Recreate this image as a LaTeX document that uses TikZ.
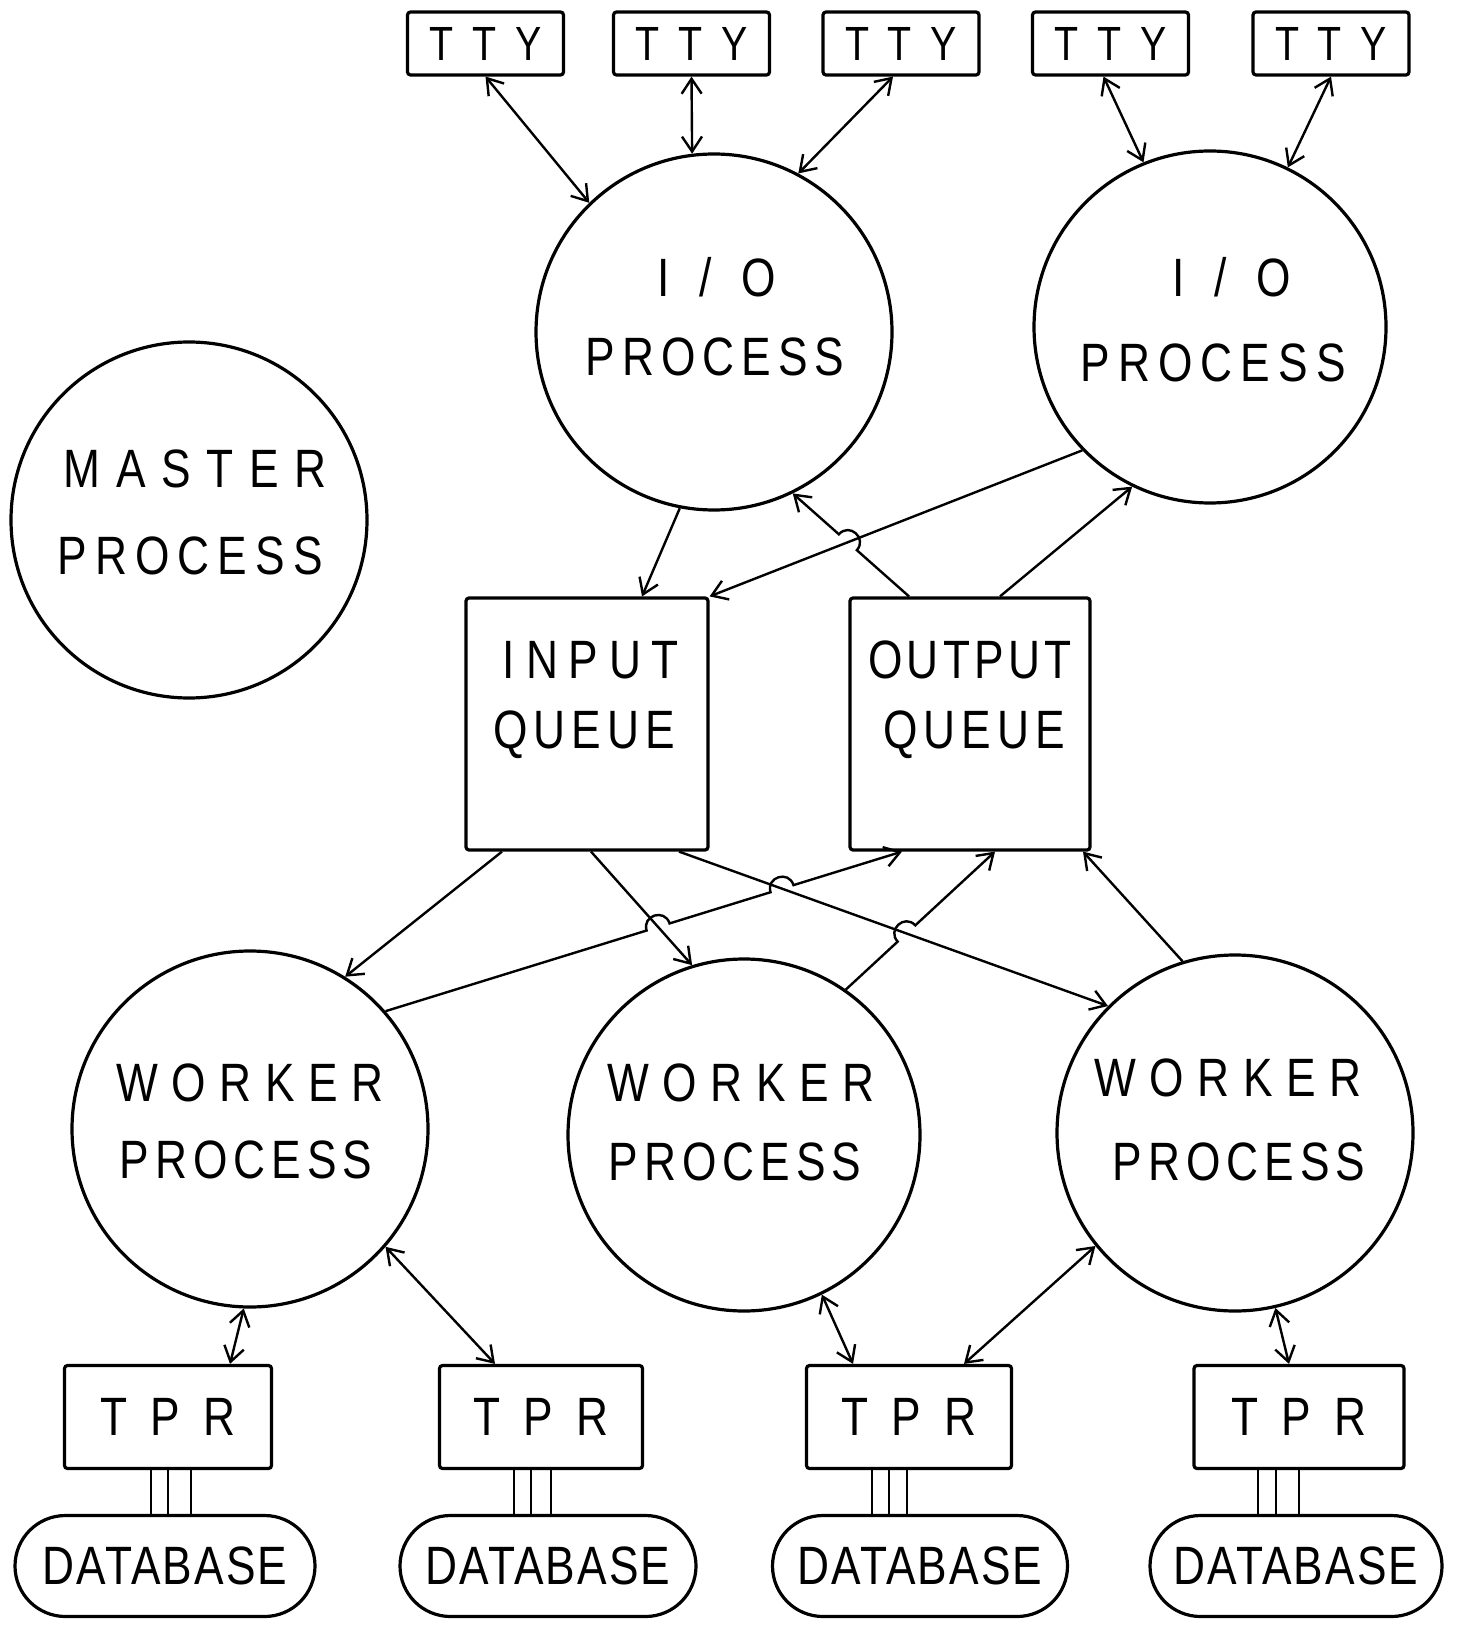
\documentclass[tikz,border=0pt]{standalone}
\usepackage{fontspec}
\newfontfamily\handfont[FakeStretch=0.82]{Liberation Sans}
\usetikzlibrary{arrows.meta,calc,intersections,shapes.misc}
\newcommand{\lsp}[1]{\addfontfeature{LetterSpace=#1}}
\begin{document}
\begin{tikzpicture}[x=0.5pt,y=-0.5pt,
 shp/.style={draw, line width=1.6pt},
 ttybox/.style={shp, rectangle, rounded corners=1.5pt, minimum width=78pt, minimum height=31.5pt, inner sep=0, font=\handfont\fontsize{24}{28}\selectfont},
 proc/.style={shp, circle, minimum size=178pt, inner sep=0},
 queue/.style={shp, rectangle, rounded corners=1.5pt, minimum width=121pt, minimum height=126pt, inner sep=0},
 tprbox/.style={shp, rectangle, rounded corners=1.5pt, minimum height=51.5pt, inner sep=0, font=\handfont\fontsize{27}{30}\selectfont},
 dbbox/.style={shp, rounded rectangle, minimum height=50.5pt, inner sep=0, font=\handfont\fontsize{27}{30}\selectfont},
 lbl/.style={font=\handfont\fontsize{27}{30}\selectfont, inner sep=0, text depth=0pt},
 conn/.style={line width=1.2pt},
 arr/.style={conn, -{Straight Barb[length=7.5pt,width=10pt]}},
 darr/.style={conn, {Straight Barb[length=7.5pt,width=10pt]}-{Straight Barb[length=7.5pt,width=10pt]}},
 hopl/.style={bend left=90, looseness=1.7},
 hopr/.style={bend right=90, looseness=1.7},
]
\useasboundingbox (0,0) rectangle (1464,1625);

% TTY boxes
\node[ttybox] (t1) at (485.5,43.5) {\lsp{39}TTY};
\node[ttybox] (t2) at (691.5,43.5) {\lsp{39}TTY};
\node[ttybox] (t3) at (901,43.5) {\lsp{39}TTY};
\node[ttybox] (t4) at (1110.5,43.5) {\lsp{39}TTY};
\node[ttybox] (t5) at (1331,43.5) {\lsp{39}TTY};

% processes
\node[proc] (io1) at (714,332) {};
\node[proc, minimum size=176pt] (io2) at (1210,327) {};
\node[proc] (ms) at (189,520) {};
\node[proc] (w1) at (250,1129) {};
\node[proc, minimum size=176pt] (w2) at (744,1135) {};
\node[proc] (w3) at (1235,1133) {};

% queues
\node[queue] (iq) at (587,724) {};
\node[queue, minimum width=120pt] (oq) at (970,724) {};

% TPR
\node[tprbox, minimum width=103.5pt] (p1) at (168,1417) {\lsp{43}TPR};
\node[tprbox, minimum width=101.5pt] (p2) at (541,1417) {\lsp{43}TPR};
\node[tprbox, minimum width=102.5pt] (p3) at (909,1417) {\lsp{43}TPR};
\node[tprbox, minimum width=105pt] (p4) at (1299,1417) {\lsp{43}TPR};

% databases
\node[dbbox, minimum width=150pt] (d1) at (165,1566) {\lsp{4}DATABASE};
\node[dbbox, minimum width=148pt] (d2) at (548,1566) {\lsp{4}DATABASE};
\node[dbbox, minimum width=147.5pt] (d3) at (920,1566) {\lsp{4}DATABASE};
\node[dbbox, minimum width=146pt] (d4) at (1296,1566) {\lsp{4}DATABASE};

% labels
\node[lbl] (io1a) at (717,277) {\lsp{55}I/O};
\node[lbl] (io1b) at (715,357) {\lsp{13}PROCESS};
\node[lbl] (io2a) at (1232,277) {\lsp{55}I/O};
\node[lbl] (io2b) at (1213,363) {\lsp{15}PROCESS};
\node[lbl] (msa) at (195,469) {\lsp{29}MASTER};
\node[lbl] (msb) at (190,556) {\lsp{15}PROCESS};
\node[lbl] (w1a) at (250,1083) {\lsp{25}WORKER};
\node[lbl] (w1b) at (246,1160) {\lsp{11}PROCESS};
\node[lbl] (w2a) at (741,1083) {\lsp{25}WORKER};
\node[lbl] (w2b) at (735,1162) {\lsp{11}PROCESS};
\node[lbl] (w3a) at (1228,1078) {\lsp{25}WORKER};
\node[lbl] (w3b) at (1239,1162) {\lsp{11}PROCESS};
\node[lbl] (iqa) at (591,660) {\lsp{20}INPUT};
\node[lbl] (iqb) at (584,730) {\lsp{11}QUEUE};
\node[lbl] (oqa) at (970,660) {\lsp{8}OUTPUT};
\node[lbl] (oqb) at (974,730) {\lsp{11}QUEUE};

% anchor points on boxes
\coordinate (t3s) at ($(t3.south)+(-8,0)$);
\coordinate (t4s) at ($(t4.south)+(-7,0)$);
\coordinate (iqn1) at ($(iq.north)+(55,0)$);
\coordinate (oqn1) at ($(oq.north)+(-61,0)$);
\coordinate (oqn2) at ($(oq.north)+(30,0)$);
\coordinate (iqs1) at ($(iq.south)+(-85,0)$);
\coordinate (iqs2) at ($(iq.south)+(4,0)$);
\coordinate (iqs3) at ($(iq.south)+(92,0)$);
\coordinate (oqs1) at ($(oq.south)+(-68,0)$);
\coordinate (oqs2) at ($(oq.south)+(25,0)$);
\coordinate (oqs3) at ($(oq.south)+(113,0)$);
\coordinate (p1n) at ($(p1.north)+(62,0)$);
\coordinate (p2n) at ($(p2.north)+(-46,0)$);
\coordinate (p3n1) at ($(p3.north)+(-56,0)$);
\coordinate (p3n2) at ($(p3.north)+(55,0)$);
\coordinate (p4n) at ($(p4.north)+(-10,0)$);

% TTY <-> I/O
\draw[darr] (t1.south) -- (io1.134);
\draw[darr] (t2.south) -- (io1.97);
\draw[darr] (t3s) -- (io1.62);
\draw[darr] (t4s) -- (io2.112);
\draw[darr] (t5.south) -- (io2.64);

% I/O <-> queues
\draw[arr] (io1.259) -- (iqn1);
\draw[arr] (io2.224) -- (iq.north east);
\draw[arr] (oqn2) -- (io2.244);
\path[name path=pa] (io2.224) -- (iq.north east);
\path[name path=pb] (oqn1) -- (io1.296);
\path[name intersections={of=pa and pb, by=xa}];
\draw[arr] (oqn1) -- ($(xa)!6pt!(oqn1)$) to[hopr] ($(xa)!6pt!(io1.296)$) -- (io1.296);

% queues <-> workers
\draw[arr] (iqs1) -- (w1.58);
\draw[arr] (iqs2) -- (w2.107);
\draw[arr] (iqs3) -- (w3.135);
\draw[arr] (w3.107) -- (oqs3);
\path[name path=pc] (iqs2) -- (w2.107);
\path[name path=pd] (iqs3) -- (w3.135);
\path[name path=pe] (w1.41) -- (oqs1);
\path[name path=pf] (w2.55) -- (oqs2);
\path[name intersections={of=pc and pe, by=xb}];
\path[name intersections={of=pd and pe, by=xc}];
\path[name intersections={of=pd and pf, by=xd}];
\draw[arr] (w1.41) -- ($(xb)!6pt!(w1.41)$) to[hopl] ($(xb)!6pt!(oqs1)$)
  -- ($(xc)!6pt!(w1.41)$) to[hopl] ($(xc)!6pt!(oqs1)$) -- (oqs1);
\draw[arr] (w2.55) -- ($(xd)!6pt!(w2.55)$) to[hopl] ($(xd)!6pt!(oqs2)$) -- (oqs2);

% workers <-> TPR
\draw[darr] (w1.268) -- (p1n);
\draw[darr] (w1.319) -- (p2n);
\draw[darr] (w2.296) -- (p3n1);
\draw[darr] (w3.219) -- (p3n2);
\draw[darr] (w3.283) -- (p4n);

% TPR = DATABASE triple links
\foreach \n/\db/\a/\b/\c in {p1/d1/-17/0/23, p2/d2/-27/-10/10, p3/d3/-37/-20/-2, p4/d4/-41/-23/0}{
  \foreach \dx in {\a,\b,\c}{
    \coordinate (tl) at ($(\n.south)+(\dx,0)$);
    \draw[line width=1.2pt] (tl) -- (tl |- \db.north);
  }
}
\end{tikzpicture}
\end{document}
